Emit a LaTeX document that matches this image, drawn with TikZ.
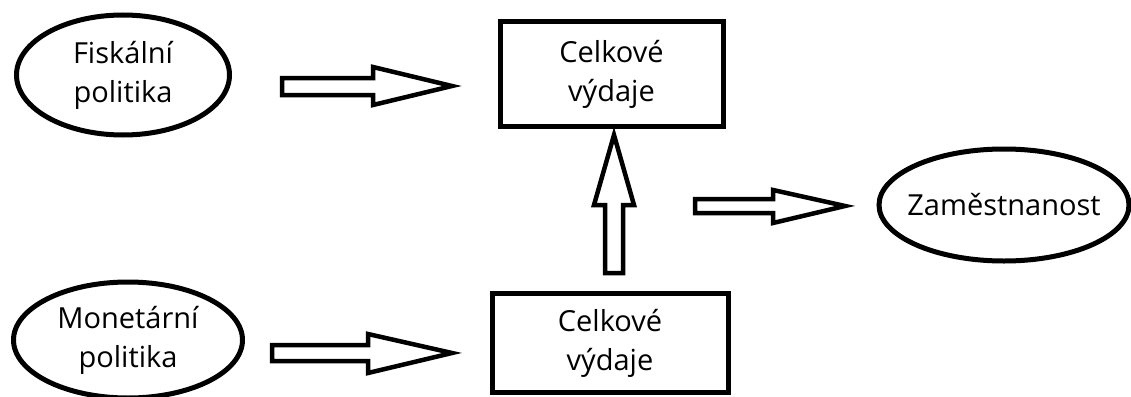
\documentclass[tikz,border=0pt]{standalone}
\usepackage{fontspec}
\setmainfont{Open Sans}
\usetikzlibrary{shapes.geometric}
\tikzset{
  lbl/.style={font=\fontsize{29}{39}\selectfont, align=center, text=black},
  oval/.style={ellipse, draw, line width=5pt, inner sep=0pt, lbl},
  blockbox/.style={rectangle, draw, line width=5pt, inner sep=0pt, lbl},
  blockarrow/.style={draw, line width=4.5pt, fill=white, line join=miter},
}
\begin{document}
\begin{tikzpicture}[x=1pt,y=-1pt]
\useasboundingbox (0,0) rectangle (1131,396);
\node[oval, minimum width=213pt, minimum height=120pt] (fisk) at (123,75) {Fiskální\\politika};
\node[oval, minimum width=229pt, minimum height=116pt] (mon) at (128,340) {Monetární\\politika};
\node[oval, inner xsep=-14pt, minimum width=250pt, minimum height=112pt] (zam) at (1004,205) {Zaměstnanost};
\node[blockbox, minimum width=223pt, minimum height=104pt] (box1) at (611.5,74) {Celkové\\výdaje};
\node[blockbox, minimum width=236pt, minimum height=99pt] (box2) at (610,343) {Celkové\\výdaje};
% block arrows
\draw[blockarrow] (282,78) -- (373,78) -- (373,67) -- (452,86) -- (373,105) -- (373,95) -- (282,95) -- cycle;
\draw[blockarrow] (272,345) -- (368,345) -- (368,334) -- (452,353) -- (368,373) -- (368,361) -- (272,361) -- cycle;
\draw[blockarrow] (695,199) -- (773,199) -- (773,190) -- (845,206) -- (773,223) -- (773,213) -- (695,213) -- cycle;
\draw[blockarrow] (605,273) -- (605,205) -- (594,205) -- (614,135) -- (634,205) -- (623,205) -- (623,273) -- cycle;
\end{tikzpicture}
\end{document}
